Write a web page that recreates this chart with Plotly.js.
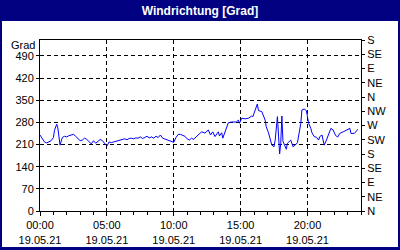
<!DOCTYPE html>
<html>
<head>
<meta charset="utf-8">
<script src="https://cdn.plot.ly/plotly-3.0.1.min.js"></script>
<style>html,body{margin:0;padding:0;background:#000080;}#chart{width:400px;height:250px;}</style>
</head>
<body>
<div id="chart"></div>
<script>
// ---- data ----
const day = '2021-05-19';
const times = [
 '00:00','00:10','00:20','00:30','00:40','00:50','01:00','01:05','01:15','01:20','01:30','01:40','01:50',
 '02:00','02:10','02:20','02:30','02:40','02:50','03:00','03:10','03:20','03:30','03:40','03:50',
 '04:00','04:10','04:20','04:30','04:40','04:50','05:00','05:10','05:20','05:30','05:40','05:50',
 '06:00','06:10','06:20','06:30','06:40','06:50','07:00','07:10','07:20','07:30','07:40','07:50',
 '08:00','08:10','08:20','08:30','08:40','08:50','09:00','09:10','09:20','09:30','09:40','09:50',
 '10:00','10:10','10:20','10:30','10:40','10:50','11:00','11:10','11:20','11:30','11:40','11:50',
 '12:00','12:05','12:20','12:35','12:45','12:55','13:05','13:20','13:25','13:35','13:40','13:50',
 '14:05','14:20','14:40','14:50','14:55','15:05','15:20','15:35','15:50','15:55',
 '16:05','16:15','16:20','16:35','16:50','16:55','17:05','17:15','17:20','17:30','17:35','17:45','17:50','17:55',
 '18:00','18:05','18:10','18:20','18:25','18:30','18:45','18:55',
 '19:05','19:15','19:20','19:30','19:35','19:45','19:55',
 '20:00','20:05','20:15','20:20','20:30','20:40','20:50','20:55',
 '21:05','21:15','21:25','21:35','21:45','21:55',
 '22:05','22:15','22:25','22:40','22:50','23:00','23:10','23:15','23:30','23:40','23:45'
];
const direction = [
 240,228,218,215,218,222,232,255,274,262,208,232,236,
 234,238,240,242,236,228,222,224,230,226,218,212,
 222,214,220,226,222,214,205,218,216,218,220,224,
 224,226,228,225,229,230,228,231,230,234,229,232,
 236,231,234,230,236,232,240,230,227,225,222,220,
 217,232,242,242,240,236,228,224,230,226,234,240,
 245,250,246,256,240,250,235,250,237,247,230,250,
 279,281,281,287,277,293,291,293,300,298,
 319,338,317,314,287,266,247,214,208,203,224,298,214,180,
 214,300,220,203,195,214,224,203,
 208,216,235,277,319,322,317,
 298,277,261,247,235,233,224,235,
 240,208,224,245,261,256,
 240,233,245,250,253,256,261,245,245,253,258
];
const yTicks = [0,70,140,210,280,350,420,490];
const compassVals = [0,45,90,135,180,225,270,315,360,405,450,495,540];
const compassText = ['N','NE','E','SE','S','SW','W','NW','N','NE','E','SE','S'];
const xTickLabelFormat = '%H:%M<br>%d.%m.%y';

// ---- geometry helpers ----
const W = 400, H = 250, L = 40, R = 39, T = 40, B = 39;
const pw = W - L - R, ph = H - T - B;
const px = x => (x - L) / pw;
const py = y => (H - B - y) / ph;

const font = 'Liberation Sans Narrow, Liberation Sans, Arial, sans-serif';

const traces = [
 {x: times.map(t => day + ' ' + t), y: direction, type: 'scatter', mode: 'lines',
  line: {color: '#0000ff', width: 1}, hoverinfo: 'skip', showlegend: false},
 {x: [day + ' 00:00'], y: [0], type: 'scatter', mode: 'markers', yaxis: 'y2',
  marker: {opacity: 0}, hoverinfo: 'skip', showlegend: false}
];

const layout = {
 width: W, height: H,
 margin: {l: L, r: R, t: T, b: B, pad: 0},
 paper_bgcolor: '#000080', plot_bgcolor: '#ffffff',
 font: {family: font, size: 11, color: '#000000'},
 title: {text: 'Windrichtung [Grad]', font: {family: font, size: 12, color: '#ffffff', weight: 'bold'},
   x: 0.5, xanchor: 'center', y: 1 - 10.5 / H, yanchor: 'middle', yref: 'container'},
 showlegend: false,
 xaxis: {type: 'date', range: [day + ' 00:00', '2021-05-20 00:00'],
   tick0: day + ' 00:00', dtick: 5 * 3600000, tickformat: xTickLabelFormat,
   showgrid: true, gridcolor: '#000000', griddash: '4px,3px', gridwidth: 1,
   showline: true, linecolor: '#000000', linewidth: 1, mirror: true,
   ticks: 'outside', ticklen: 4, tickcolor: '#000000',
   minor: {dtick: 3600000, tick0: day + ' 00:00', ticks: 'outside', ticklen: 3, tickcolor: '#000000', showgrid: false},
   zeroline: false, fixedrange: true, tickfont: {family: font, size: 11, color: '#000000'}},
 yaxis: {range: [0, 540], tickvals: yTicks, ticktext: yTicks.map(String),
   showgrid: true, gridcolor: '#000000', griddash: '4px,3px', gridwidth: 1,
   showline: true, linecolor: '#000000', linewidth: 1, mirror: true,
   ticks: 'outside', ticklen: 3, tickcolor: '#000000', zeroline: false, fixedrange: true,
   tickfont: {family: font, size: 11, color: '#000000'}},
 yaxis2: {overlaying: 'y', side: 'right', range: [0, 540], tickvals: compassVals, ticktext: compassText,
   showgrid: false, zeroline: false, showline: true, linecolor: '#000000',
   ticks: 'outside', ticklen: 3, tickcolor: '#000000', fixedrange: true,
   tickfont: {family: font, size: 11, color: '#000000'}},
 shapes: [
  {type: 'rect', xref: 'paper', yref: 'paper', layer: 'below',
   x0: px(2), x1: px(398), y0: py(247), y1: py(21),
   fillcolor: '#ffffff', line: {width: 0}}
 ],
 annotations: [
  {text: 'Grad', xref: 'paper', yref: 'paper', x: px(37), y: py(45), xanchor: 'right', yanchor: 'middle',
   showarrow: false, font: {family: font, size: 11, color: '#000000'}}
 ]
};

Plotly.newPlot('chart', traces, layout, {staticPlot: true, displayModeBar: false});
</script>
</body>
</html>
